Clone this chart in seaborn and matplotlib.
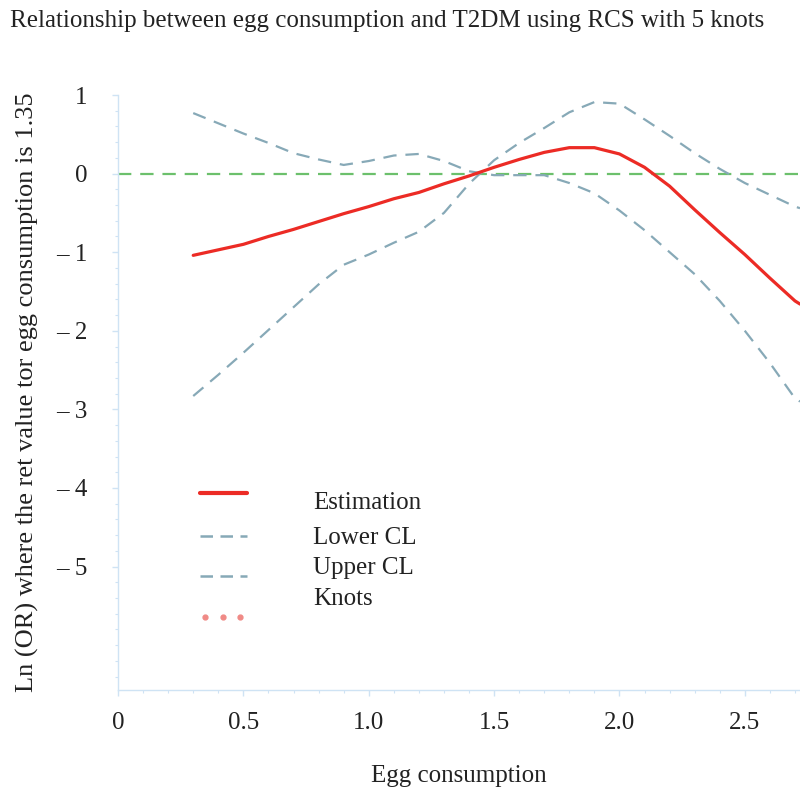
import matplotlib
matplotlib.use("Agg")
import matplotlib.pyplot as plt
import seaborn as sns
import pandas as pd
from matplotlib.lines import Line2D

# values
egg = [0.3, 0.4, 0.5, 0.6, 0.7, 0.8, 0.9, 1.0, 1.1, 1.2, 1.3, 1.4, 1.5,
       1.6, 1.7, 1.8, 1.9, 2.0, 2.1, 2.2, 2.3, 2.4, 2.5, 2.6, 2.7, 2.72]
estimation = [-1.04, -0.97, -0.90, -0.80, -0.71, -0.61, -0.51, -0.42, -0.32,
              -0.24, -0.13, -0.03, 0.08, 0.18, 0.27, 0.33, 0.33, 0.25, 0.08,
              -0.16, -0.46, -0.75, -1.03, -1.33, -1.62, -1.66]
lower_cl = [-2.83, -2.56, -2.28, -1.99, -1.70, -1.41, -1.16, -1.03, -0.88,
            -0.74, -0.50, -0.13, 0.17, 0.39, 0.58, 0.78, 0.91, 0.89, 0.69,
            0.48, 0.26, 0.06, -0.12, -0.27, -0.42, -0.44]
upper_cl = [0.77, 0.64, 0.51, 0.39, 0.26, 0.18, 0.11, 0.16, 0.23, 0.25, 0.16,
            0.03, -0.02, -0.02, -0.02, -0.12, -0.25, -0.47, -0.72, -1.00,
            -1.28, -1.62, -2.00, -2.41, -2.86, -2.90]

x_ticks = [0, 0.5, 1.0, 1.5, 2.0, 2.5]
x_ticklabels = ["0", "0.5", "1.0", "1.5", "2.0", "2.5"]
y_ticks = [1, 0, -1, -2, -3, -4, -5]
y_ticklabels = ["1", "0", "\u2013 1", "\u2013 2", "\u2013 3", "\u2013 4", "\u2013 5"]
legend_labels = ["Estimation", "Lower CL", "Upper CL", "Knots"]

df = pd.DataFrame({"egg": egg, "est": estimation,
                   "lower": lower_cl, "upper": upper_cl})

sns.set_style("white")
plt.rcParams["font.family"] = ["Liberation Serif", "DejaVu Serif"]

red = "#ec2b25"
cl_col = "#87a9b7"
green = "#6cc06c"
spine = "#cfe3f4"

fig = plt.figure(figsize=(8, 7.97), dpi=100)
ax = fig.add_axes([0.1475, 0.1343, 0.8525, 0.7465])

ax.axhline(0, color=green, lw=1.6, dashes=(6, 4))
sns.lineplot(data=df, x="egg", y="upper", ax=ax, color=cl_col, lw=1.6,
             linestyle=(0, (6, 4)))
sns.lineplot(data=df, x="egg", y="lower", ax=ax, color=cl_col, lw=1.6,
             linestyle=(0, (6, 4)))
sns.lineplot(data=df, x="egg", y="est", ax=ax, color=red, lw=2.3)

ax.set_xlim(0, 2.72)
ax.set_ylim(-6.57, 0.96)
ax.set_xticks(x_ticks)
ax.set_xticklabels(x_ticklabels)
ax.set_yticks(y_ticks)
ax.set_yticklabels(y_ticklabels)
ax.set_xticks([i / 10 for i in range(0, 28)], minor=True)
ax.set_yticks([i / 5 for i in range(-32, 5)], minor=True)
ax.tick_params(axis="both", which="both", colors=spine, labelcolor="#222222",
               labelsize=18, direction="out", bottom=True, left=True)
ax.tick_params(axis="both", which="major", length=4, width=1)
ax.tick_params(axis="both", which="minor", length=2.5, width=0.8)
ax.tick_params(axis="x", pad=12)
ax.tick_params(axis="y", pad=18)

for s in ["top", "right"]:
    ax.spines[s].set_visible(False)
for s in ["left", "bottom"]:
    ax.spines[s].set_color(spine)
    ax.spines[s].set_linewidth(1)

ax.set_xlabel("Egg consumption", fontsize=18, color="#222222", labelpad=22)
ax.set_ylabel("Ln (OR) where the ret value tor egg consumption is 1.35",
              fontsize=19, color="#222222", labelpad=12)

fig.text(0.012, 0.988, "Relationship between egg consumption and T2DM using RCS with 5 knots",
         fontsize=18, color="#222222", ha="left", va="top")

# hand-placed legend, as in the reference
handles = [
    Line2D([0.12, 0.189], [0, 0], color=red, lw=3),
    Line2D([0.12, 0.189], [0, 0], color=cl_col, lw=1.8, linestyle=(0, (5, 3))),
    Line2D([0.12, 0.189], [0, 0], color=cl_col, lw=1.8, linestyle=(0, (5, 3))),
    Line2D([0.128, 0.154, 0.179], [0, 0, 0], color="#f08a86", lw=0,
           marker="o", markersize=3.5),
]
hand_y = [0.331, 0.259, 0.192, 0.123]
text_y = [0.314, 0.255, 0.205, 0.153]
for h, hy, ty, lab in zip(handles, hand_y, text_y, legend_labels):
    h.set_ydata([hy] * len(h.get_xdata()))
    h.set_transform(ax.transAxes)
    ax.add_line(h)
    ax.text(0.286, ty, lab, transform=ax.transAxes, fontsize=18,
            color="#222222", va="center", ha="left")

fig.savefig("out.png", dpi=100)
